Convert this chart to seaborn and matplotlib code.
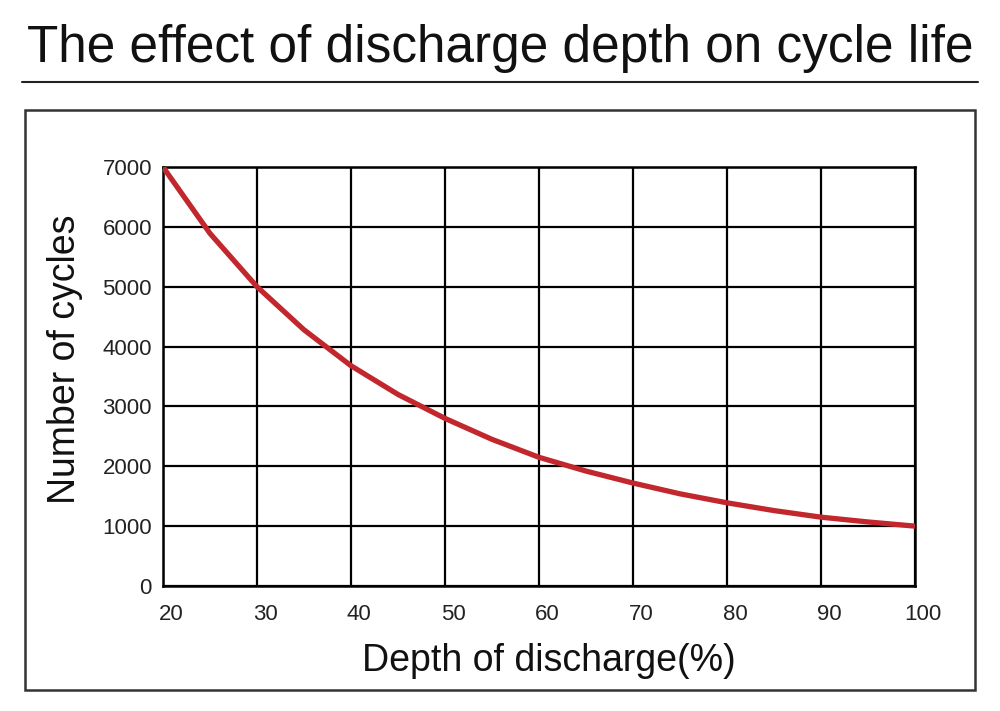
import matplotlib
matplotlib.use("Agg")
import matplotlib.pyplot as plt
import matplotlib.transforms as mtransforms
import seaborn as sns
import pandas as pd
from matplotlib.patches import Rectangle
from matplotlib.lines import Line2D

# values
depth = [20, 25, 30, 35, 40, 45, 50, 55, 60, 65, 70, 75, 80, 85, 90, 95, 100]
cycles = [7000, 5890, 5000, 4280, 3680, 3200, 2800, 2450, 2150, 1920, 1720,
          1540, 1390, 1260, 1150, 1070, 1000]
x_ticks = [20, 30, 40, 50, 60, 70, 80, 90, 100]
y_ticks = [0, 1000, 2000, 3000, 4000, 5000, 6000, 7000]

sns.set_style("white")
plt.rcParams['font.family'] = ['Liberation Sans', 'DejaVu Sans']

df = pd.DataFrame({"depth": depth, "cycles": cycles})

fig = plt.figure(figsize=(10, 7.11), dpi=100)
ax = fig.add_axes([0.163, 1 - 586 / 711, 0.752, (586 - 167) / 711])

sns.lineplot(data=df, x="depth", y="cycles", ax=ax, color="#c1272d",
             linewidth=3.8, solid_capstyle="round", zorder=3)

ax.set_xlim(20, 100)
ax.set_ylim(0, 7000)
ax.set_xticks(x_ticks)
ax.set_yticks(y_ticks)
ax.grid(True, color="black", linewidth=1.6)
for s in ax.spines.values():
    s.set_color("black")
    s.set_linewidth(1.8)
ax.tick_params(axis="both", length=0, labelsize=16, colors="#222222")
ax.tick_params(axis="x", pad=13)
ax.tick_params(axis="y", pad=8)
shift = mtransforms.ScaledTranslation(8 / 100, 0, fig.dpi_scale_trans)
for lbl in ax.get_xticklabels():
    lbl.set_transform(lbl.get_transform() + shift)
ax.set_xlabel("Depth of discharge(%)", fontsize=27, color="#111111")
ax.set_ylabel("Number of cycles", fontsize=27, color="#111111")
ax.xaxis.set_label_coords(0.513, -0.135)
ax.yaxis.set_label_coords(-0.107, 0.54)

fig.text(0.5, 1 - 62 / 711, "The effect of discharge depth on cycle life",
         ha="center", va="baseline", fontsize=37, color="#111111",
         family=["Liberation Sans Narrow", "Liberation Sans"])
fig.add_artist(Line2D([0.022, 0.978], [1 - 82 / 711] * 2, color="#222222",
                      linewidth=1.5, transform=fig.transFigure))
fig.add_artist(Rectangle((0.025, 1 - 690 / 711), 0.95, 580 / 711,
                         fill=False, edgecolor="#333333", linewidth=1.8,
                         transform=fig.transFigure))

fig.savefig("out.png", dpi=100, facecolor="white")
